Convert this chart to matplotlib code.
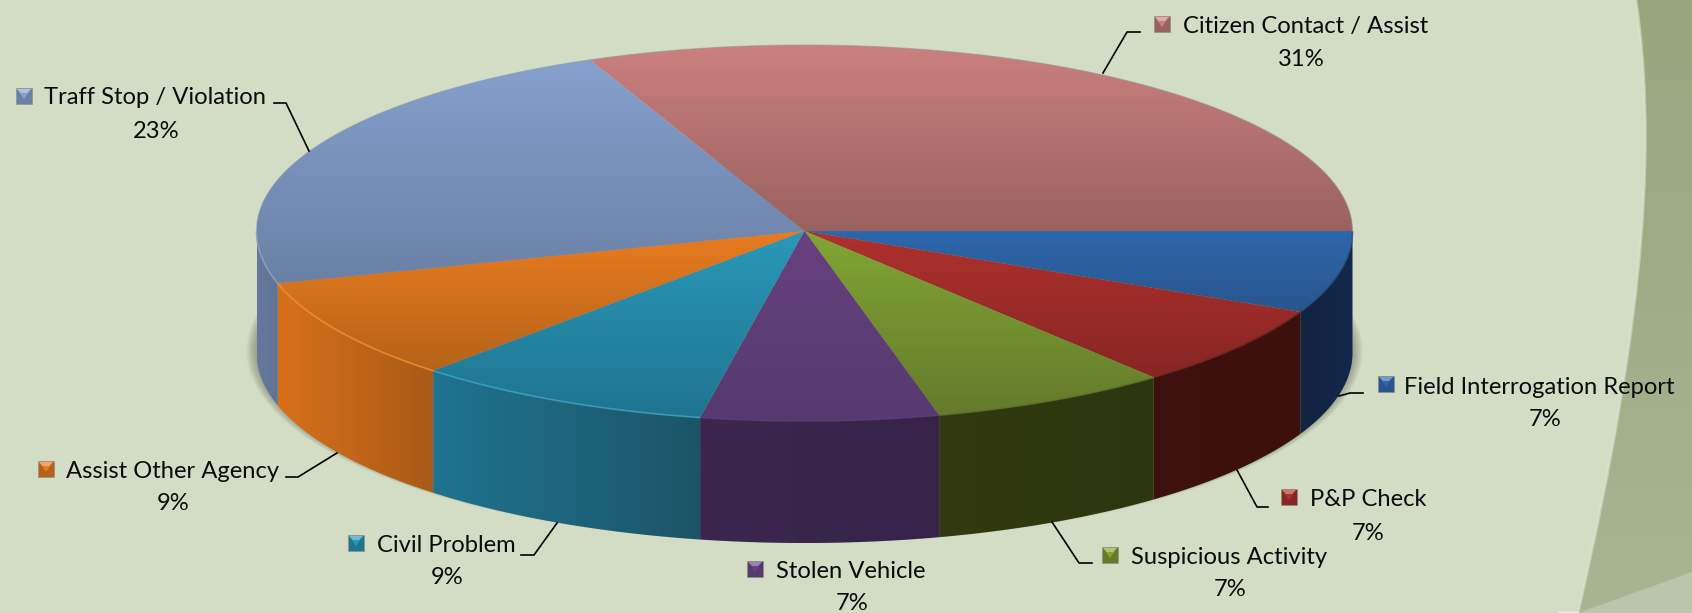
import matplotlib
matplotlib.use("Agg")
import matplotlib.pyplot as plt
import numpy as np
from matplotlib.colors import to_rgb
from matplotlib.patches import Ellipse, PathPatch, Polygon, Rectangle
from matplotlib.path import Path

plt.rcParams["font.family"] = ["Lato", "DejaVu Sans"]

categories = [
    "Field Interrogation Report",
    "P&P Check",
    "Suspicious Activity",
    "Stolen Vehicle",
    "Civil Problem",
    "Assist Other Agency",
    "Traff Stop / Violation",
    "Citizen Contact / Assist",
]
# slice sizes, labels are the rounded ones printed on it
shares = [7.0, 7.0, 7.05, 7.0, 8.8, 8.7, 23.05, 31.4]
pct_labels = ["7%", "7%", "7%", "7%", "9%", "9%", "23%", "31%"]

top_light = ["#2D67AC", "#AF312E", "#82A634", "#68417F", "#2B98B8", "#E87C20", "#86A1CE", "#CB807E"]
top_dark = ["#29568E", "#872623", "#637B2B", "#553A6F", "#1F7490", "#B5631A", "#6A80A6", "#99625F"]
side_left = ["#12233F", "#3F110F", "#33390F", "#3C284F", "#1F7490", "#D8701A", "#66799C", "#000000"]
side_right = ["#12284C", "#3C100D", "#2D3710", "#36234A", "#1C5468", "#A85A18", "#5F7496", "#000000"]
rim = ["#2A4F7F", "#6E2220", "#5C7428", "#5B3A78", "#3AA6C4", "#F58E32", "#8BA3CC", "#000000"]

# label layout in pixels: swatch centre, text left, text y, percent centre, percent y
swatch_xy = [(1386, 384), (1289, 497), (1110, 555), (755, 569), (356, 543), (46, 469), (24, 96), (1162, 24)]
text_xy = [(1404, 388), (1310, 500), (1131, 558), (776, 572), (377, 545), (66, 472), (44, 97), (1183, 26)]
pct_xy = [(1545, 420), (1368, 533), (1230, 590), (852, 604), (447, 577), (173, 504), (156, 132), (1301, 59)]
leaders = [
    [(1363, 393), (1350, 393), (1339, 396)],
    [(1237, 470), (1257, 507), (1268, 507)],
    [(1052, 522), (1079, 563), (1092, 563)],
    [],
    [(557, 523), (534, 555), (521, 555)],
    [(337, 453), (298, 477), (286, 477)],
    [(309, 151), (286, 103), (274, 103)],
    [(1103, 73), (1127, 32), (1140, 32)],
]

W, H = 1692, 613
cx, cy, rx, ry_back, ry_front, depth = 804.5, 231, 548, 186, 190, 122

fig = plt.figure(figsize=(W / 100, H / 100), dpi=100, facecolor="#D3DDC5")
ax = fig.add_axes([0, 0, 1, 1])
ax.set_axis_off()


def gradient(colors_a, colors_b, extent, clip, vertical=True, z=2):
    a, b = np.array(to_rgb(colors_a)), np.array(to_rgb(colors_b))
    t = np.linspace(0, 1, 256)[:, None] if vertical else np.linspace(0, 1, 256)[None, :]
    img = a * (1 - t[..., None]) + b * t[..., None]
    im = ax.imshow(img, extent=extent, aspect="auto", zorder=z, interpolation="bilinear")
    im.set_clip_path(clip)
    return im


def rim_xy(t, dy=0):
    s = np.sin(t)
    return cx + rx * np.cos(t), cy + np.where(s > 0, ry_front, ry_back) * s + dy


# background decoration at the right edge
dark_path = Path(
    [(1636, 0), (1655, 130), (1650, 300), (1578, 613), (W, 613), (W, 0), (1636, 0)],
    [Path.MOVETO, Path.CURVE4, Path.CURVE4, Path.CURVE4, Path.LINETO, Path.LINETO, Path.CLOSEPOLY],
)
dark_patch = PathPatch(dark_path, fc="none", ec="none", zorder=0)
ax.add_patch(dark_patch)
gradient("#98A67E", "#A8B592", (1570, W, 613, 0), dark_patch, z=0.5)
edge_line = Path(dark_path.vertices[:4], dark_path.codes[:4])
ax.add_patch(PathPatch(edge_line, fc="none", ec="#DCE4D0", lw=2, alpha=0.6, zorder=0.55))
ax.add_patch(Polygon([(1578, 613), (W, 572), (W, 613)], fc="#BAC5AB", ec="none", zorder=0.6))
ax.plot([1560, 1578], [612.5, 612.5], color="#F4F6EF", lw=1.5, zorder=0.6)

# soft shadow under the pie
for k in range(8):
    ax.add_patch(Ellipse((cx, cy + depth - 2), 2 * (rx + 1 + k * 1.3), 2 * (ry_front + k * 0.3),
                         fc="#3A3F30", ec="none", alpha=0.05, zorder=1))

edges = np.cumsum([0] + shares) / sum(shares) * 2 * np.pi

# side walls, only the part of each slice facing the viewer
for i in range(len(shares)):
    start, end = edges[i], min(edges[i + 1], np.pi)
    if start >= np.pi:
        continue
    t = np.linspace(start, end, 120)
    xt, yt = rim_xy(t)
    xb, yb = rim_xy(t, depth)
    wall = Polygon(np.r_[np.c_[xt, yt], np.c_[xb, yb][::-1]], fc="none", ec="none", zorder=2)
    ax.add_patch(wall)
    gradient(side_left[i], side_right[i], (xt.min(), xt.max(), cy + ry_front + depth, cy), wall, vertical=False, z=2)

# top faces
for i in range(len(shares)):
    t = np.linspace(edges[i], edges[i + 1], 200)
    xt, yt = rim_xy(t)
    pts = np.r_[[(cx, cy)], np.c_[xt, yt]]
    face = Polygon(pts, fc="none", ec="none", zorder=3)
    ax.add_patch(face)
    gradient(top_light[i], top_dark[i], (pts[:, 0].min(), pts[:, 0].max(), pts[:, 1].max(), pts[:, 1].min()), face, z=3)

# thin highlight on the rim
for i in range(len(shares)):
    start, end = edges[i], min(edges[i + 1], np.pi)
    if start >= np.pi:
        continue
    t = np.linspace(start, end, 120)
    ax.plot(*rim_xy(t), color=rim[i], lw=1.2, alpha=0.8, zorder=4, solid_capstyle="butt")

t = np.linspace(edges[6], 2 * np.pi, 300)
ax.plot(*rim_xy(t), color="#8E9AA0", lw=0.8, alpha=0.6, zorder=4)

# labels
for i, name in enumerate(categories):
    sx, sy = swatch_xy[i]
    ax.add_patch(Rectangle((sx - 8, sy - 8), 16, 16, fc=top_dark[i], ec="#8A8F80", lw=0.4, zorder=5))
    ax.add_patch(Polygon([(sx - 7, sy - 7), (sx + 7, sy - 7), (sx, sy + 3)], fc=top_light[i], ec="none", zorder=6))
    ax.add_patch(Polygon([(sx - 7, sy - 7), (sx + 7, sy - 7), (sx + 3, sy - 3), (sx - 3, sy - 3)],
                         fc="white", ec="none", alpha=0.35, zorder=6))
    ax.text(*text_xy[i], name, fontsize=17.1, color="#0A0A0A", ha="left", va="center", zorder=7)
    ax.text(*pct_xy[i], pct_labels[i], fontsize=17.1, color="#0A0A0A", ha="center", va="center", zorder=7)
    if leaders[i]:
        lx, ly = zip(*leaders[i])
        ax.plot(lx, ly, color="black", lw=1.2, zorder=6)

ax.set_xlim(0, W)
ax.set_ylim(H, 0)
fig.savefig("out.png", dpi=100, facecolor=fig.get_facecolor())
